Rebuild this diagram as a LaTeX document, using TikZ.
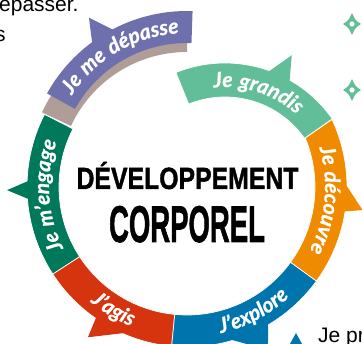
\documentclass[tikz,border=0pt]{standalone}
\usepackage{fontspec}
\setmainfont{Liberation Sans}
\newfontfamily\bandfont[LetterSpace=6,FakeBold=1]{Lato}
\newfontfamily\titlefont[UprightFont={* Bold},FakeBold=1.5]{Liberation Sans}
\usetikzlibrary{decorations.text,calc}
\definecolor{cpurple}{HTML}{6E70AD}
\definecolor{ctaupe}{HTML}{B09D98}
\definecolor{cmint}{HTML}{62BE99}
\definecolor{corange}{HTML}{F08A00}
\definecolor{cblue}{HTML}{0075AD}
\definecolor{cred}{HTML}{D6330F}
\definecolor{cdgreen}{HTML}{00785A}
\newcommand\bandtext{\bandfont\bfseries\itshape\fontsize{21}{21}\selectfont}
% center, r_in, r_out, a1, a2, style
\newcommand\ringseg[6]{%
  \fill[#6] ($(#1)+(#4:#3)$) arc[start angle=#4,end angle=#5,radius=#3]
    -- ($(#1)+(#5:#2)$) arc[start angle=#5,end angle=#4,radius=#2] -- cycle;}
\newcommand\bandlabel[6]{% center, radius, a1, a2, text, name
  \path[decorate,decoration={text along path,text align=center,text color=white,
    text={|\bandtext|#5}}] ($(#1)+(#3:#2)$) coordinate (#6) arc[start angle=#3,end angle=#4,radius=#2];}
\newcommand\sparkle[1]{%
  \fill[cmint] ($(#1)+(9,0)$) .. controls ($(#1)+(3.5,3.5)$) .. ($(#1)+(0,11)$)
    .. controls ($(#1)+(-3.5,3.5)$) .. ($(#1)+(-9,0)$)
    .. controls ($(#1)+(-3.5,-3.5)$) .. ($(#1)+(0,-11)$)
    .. controls ($(#1)+(3.5,-3.5)$) .. ($(#1)+(9,0)$) -- cycle;
  \fill[white] (#1) circle (2.6);}
\tikzset{sep/.style={draw=white,line width=0.7pt}}
\begin{document}
\begin{tikzpicture}[x=1pt,y=1pt]
\useasboundingbox (0,0) rectangle (362,344);
\clip (0,0) rectangle (362,344);
\coordinate (C) at (187,157);
\coordinate (T) at (187,164);
\coordinate (P) at (187,173);
\coordinate (G) at (225,150);
% taupe shadow
\ringseg{T}{128}{160}{155}{90}{ctaupe}
% dark green
\ringseg{C}{128}{160}{213}{153}{cdgreen,sep}
\fill[cdgreen] ($(C)+(177.5:157)$) -- ($(C)+(181:180)$) -- ($(C)+(184.7:157)$) -- cycle;
% red
\ringseg{C}{128}{160}{-95.5}{-147}{cred,sep}
\fill[cred] ($(C)+(-112:157)$) -- ($(C)+(-123.4:180)$) -- ($(C)+(-125:157)$) -- cycle;
% blue
\ringseg{C}{128}{160}{-36}{-95.5}{cblue,sep}
\fill[cblue] ($(C)+(-59.3:159)$) -- ($(C)+(-63.6:182)$) -- ($(C)+(-75:157)$) -- cycle;
% orange
\fill[corange,sep] ($(C)+(25:160)$) arc[start angle=25,end angle=-36,radius=160]
  -- ($(C)+(-36:128)$) arc[start angle=-36,end angle=22.5,radius=128] -- cycle;
\fill[corange] ($(C)+(2:157)$) -- ($(C)+(-7.5:177)$) -- ($(C)+(-9:157)$) -- cycle;
% mint
\ringseg{G}{97}{131}{112}{35}{cmint,sep}
\fill[cmint] ($(G)+(71:128)$) -- ($(G)+(64.3:154)$) -- ($(G)+(59.8:128)$) -- cycle;
% purple
\ringseg{P}{128}{160}{151}{88}{cpurple}
\fill[cpurple] ($(P)+(127:157)$) -- ($(P)+(122.6:182)$) -- ($(P)+(117:157)$) -- cycle;
% labels
\bandlabel{P}{138}{152}{88}{Je me dépasse}{lp}
\bandlabel{G}{107}{108}{36}{Je grandis}{lg}
\bandlabel{C}{138}{20}{-31}{Je découvre}{lo}
\bandlabel{C}{150}{-95}{-29}{J’explore}{lb}
\bandlabel{C}{150}{-146}{-96}{J’agis}{lr}
\bandlabel{C}{138}{211}{156}{Je m’engage}{ld}
% center title
\node[anchor=base,inner sep=0] (t1) at (187.5,155)
  {\scalebox{2.48}[3.07]{\fontsize{10}{10}\selectfont\titlefont DÉVELOPPEMENT}};
\node[anchor=base,inner sep=0] (t2) at (187,102)
  {\scalebox{2.75}[5.17]{\fontsize{10}{10}\selectfont\titlefont CORPOREL}};
% surrounding page fragments
\node[anchor=base west,inner sep=0,font=\fontsize{21}{21}\selectfont] (f1) at (-1,332) {épasser.};
\node[anchor=base west,inner sep=0,font=\fontsize{21}{21}\selectfont] (f2) at (-5,302) {s};
\coordinate (s1) at (352,320);
\coordinate (s2) at (352,254);
\sparkle{s1}
\sparkle{s2}
\coordinate (b1) at (296,11);
\fill[cblue] (b1) -- ++(-6,-11) -- ++(12,0) -- cycle;
\node[anchor=base west,inner sep=0,font=\fontsize{21}{21}\selectfont] (f3) at (318,1) {Je pr};
\end{tikzpicture}
\end{document}
